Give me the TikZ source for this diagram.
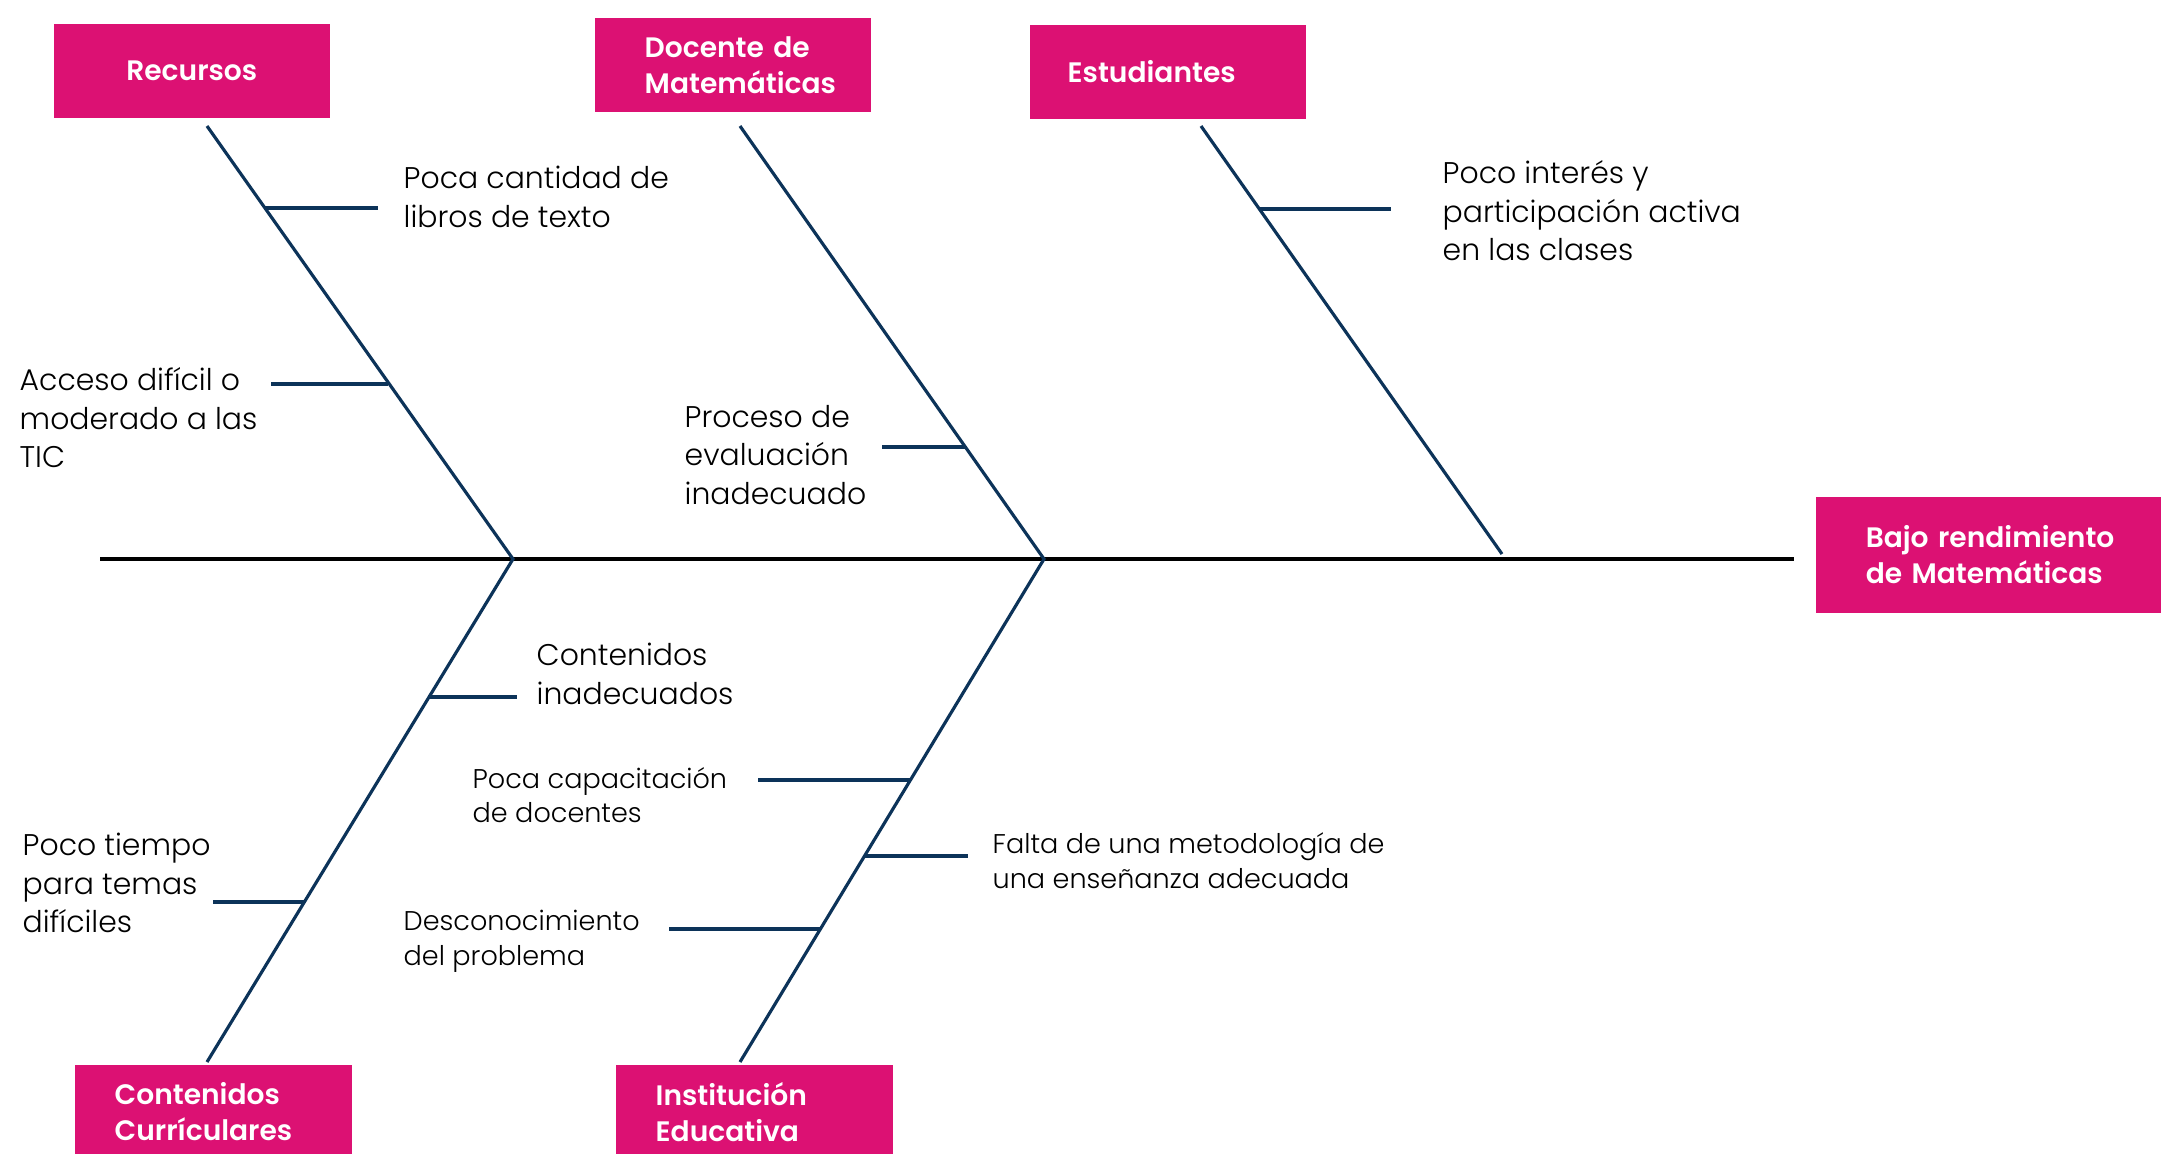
\documentclass[tikz,border=0pt]{standalone}
\usepackage{fontspec}
\setmainfont{Poppins}[UprightFont=* Light, BoldFont=* SemiBold]
\definecolor{rosa}{RGB}{220,17,115}
\definecolor{azul}{RGB}{12,51,89}
\tikzstyle{head} = [rectangle, fill=rosa, text=white, font=\bfseries\fontsize{8}{10.2}\selectfont, align=left, anchor=west, minimum height=0.94cm, inner ysep=0pt]
\tikzstyle{cause} = [align=left, anchor=west, inner sep=0pt, font=\fontsize{8.5}{10.95}\selectfont]
\tikzstyle{causesm} = [cause, font=\fontsize{7.7}{9.9}\selectfont]
\tikzstyle{bone} = [azul, line width=0.9pt]
\tikzstyle{twig} = [azul, line width=1.3pt]
\tikzstyle{spine} = [black, line width=1.3pt]
\begin{document}
\begin{tikzpicture}[x=0.01cm, y=-0.01cm]
\useasboundingbox (0,0) rectangle (2175,1153);

% categories
\node (rec) [head, inner xsep=0.2cm, text width=2.36cm, align=center] at (53,71) {Recursos};
\node (doc) [head, inner xsep=0.5cm, text width=1.76cm] at (594,65) {Docente~de\\Matemáticas};
\node (est) [head, inner xsep=0.38cm, text width=2.0cm] at (1029,72) {Estudiantes};
\node (bajo) [head, inner xsep=0.5cm, text width=2.45cm, minimum height=1.15cm] at (1815,555) {Bajo~rendimiento\\de~Matemáticas};
\node (cc) [head, inner xsep=0.4cm, text width=1.97cm] at (74,1112) {Contenidos\\Currículares};
\node (ie) [head, inner xsep=0.4cm, text width=1.97cm] at (615,1112) {Institución\\Educativa};

% causes
\node (libros) [cause] at (403,197) {Poca cantidad de\\libros de texto};
\node (acceso) [cause] at (19,418) {Acceso difícil o\\moderado a las\\TIC};
\node (proceso) [cause] at (684,455) {Proceso de\\evaluación\\inadecuado};
\node (interes) [cause] at (1442,211) {Poco interés y\\participación activa\\en las clases};
\node (contenidos) [cause] at (536,674) {Contenidos\\inadecuados};
\node (capacit) [causesm] at (472,795) {Poca capacitación\\de docentes};
\node (falta) [causesm] at (992,861) {Falta de una metodología de\\una enseñanza adecuada};
\node (descon) [causesm] at (403,941) {Desconocimiento\\del problema};
\node (tiempo) [cause] at (22,883) {Poco tiempo\\para temas\\difíciles};

% spine and bones
\coordinate (spineL) at (100,559);
\coordinate (spineR) at (1794,559);
\coordinate (j1) at (513,559);
\coordinate (j2) at (1044,559);
\coordinate (recT) at (207,126);
\coordinate (docT) at (740,126);
\coordinate (estT) at (1201,126);
\coordinate (estB) at (1502,554);
\coordinate (ccB) at (207,1062);
\coordinate (ieB) at (740,1062);

\draw [spine] (spineL) -- (spineR);
\draw [bone] (recT) -- (j1) -- (ccB);
\draw [bone] (docT) -- (j2) -- (ieB);
\draw [bone] (estT) -- (estB);

% twigs
\draw [twig] (265,208) -- (378,208);
\draw [twig] (271,384) -- (388,384);
\draw [twig] (882,447) -- (966,447);
\draw [twig] (1259,209) -- (1391,209);
\draw [twig] (428,697) -- (517,697);
\draw [twig] (758,780) -- (911,780);
\draw [twig] (864,856) -- (968,856);
\draw [twig] (669,929) -- (821,929);
\draw [twig] (213,902) -- (305,902);

\end{tikzpicture}
\end{document}
